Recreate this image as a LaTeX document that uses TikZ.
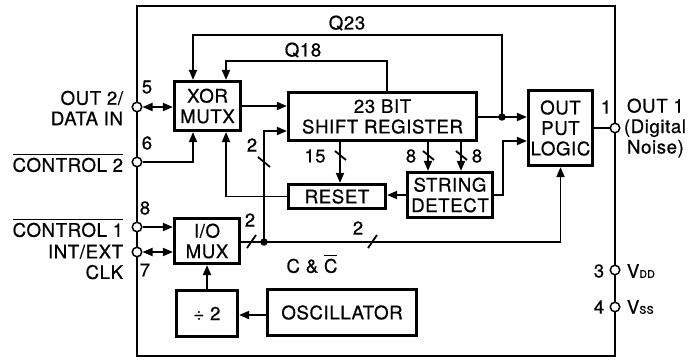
\documentclass[tikz,border=0pt]{standalone}
\usepackage{fontspec}
\setmainfont{TeX Gyre Heros}[FakeBold=0.6,LetterSpace=3]
\usetikzlibrary{arrows.meta,calc}
\newcommand\bxf{\fontsize{18.7}{20.5}\selectfont}
\newcommand\smf{\fontsize{18.5}{20}\selectfont}
\newcommand\subf{\fontsize{10.5}{11}\selectfont}
\newcommand\ovl[1]{\vbox{\hrule height 1.5pt\kern 2.4pt\hbox{#1}}}
\begin{document}
\begin{tikzpicture}[x=1pt,y=-1pt,line width=1.8pt,
  >={Triangle[length=10pt,width=8pt]},
  box/.style={draw,line width=2.7pt,inner sep=0pt,align=center,font=\bxf},
  pinc/.style={circle,draw,fill=white,line width=1.5pt,minimum size=9.5pt,inner sep=0pt},
  jdot/.style={circle,fill,inner sep=0pt,minimum size=7.5pt},
  lbl/.style={font=\bxf,inner sep=0pt},
  num/.style={font=\smf,inner sep=0pt}]
\useasboundingbox (0,0) rectangle (689,361);
% chip outline
\draw[line width=2pt] (137,6) rectangle (615,356);
% boxes
\node[box,minimum width=66.5pt,minimum height=49.5pt] (xor) at (207.5,106) {XOR\\MUTX};
\node[box,minimum width=188.5pt,minimum height=48.5pt] (sr) at (382.5,116.5) {23 BIT\\SHIFT REGISTER};
\node[box,minimum width=64.5pt,minimum height=75.5pt] (out) at (560.5,128) {OUT\\PUT\\LOGIC};
\node[box,minimum width=97.5pt,minimum height=24.5pt] (reset) at (337,196.5) {RESET};
\node[box,minimum width=85.5pt,minimum height=45.5pt] (str) at (450,195) {STRING\\DETECT};
\node[box,minimum width=65.5pt,minimum height=45.5pt] (mux) at (207,241) {I/O\\MUX};
\node[box,minimum width=61.5pt,minimum height=46.5pt] (div) at (207,313.5) {÷ 2};
\node[box,minimum width=149.5pt,minimum height=46.5pt] (osc) at (342,312.5) {OSCILLATOR};
% pins
\node[pinc] (p5) at (137,107) {};
\node[pinc] (p6) at (137,162) {};
\node[pinc] (p8) at (137,227) {};
\node[pinc] (p7) at (137,252) {};
\node[pinc] (p1) at (615,128) {};
\node[pinc] (p3) at (615,270) {};
\node[pinc] (p4) at (615,307) {};
% junctions and bus coordinates
\node[jdot] (j1) at (502,117) {};
\node[jdot] (j2) at (264,242) {};
\coordinate (b15) at (340,0);
\coordinate (b8a) at (428,0);
\coordinate (b8b) at (461,0);
\coordinate (q23) at (502,35);
\coordinate (q18) at (387,61);
\coordinate (sd) at (503,195);
% connectors
\draw[<->] (p5) -- (xor.west |- p5);
\draw[->] (p6) -| ([xshift=-14.5pt]xor.south);
\draw[->] (reset.west) -| ([xshift=18.5pt]xor.south);
\draw[->] (xor.east) -- (sr.west |- xor.east);
\draw (sr.east |- j1) -- (j1.center);
\draw[->] (j1.center) -- (out.west |- j1);
\draw[->] (j1.center) -- (q23) -| ([xshift=-14.5pt]xor.north);
\draw[->] (sr.north -| q18) -- (q18) -| ([xshift=18.5pt]xor.north);
\draw (mux.east |- j2) -- (j2.center);
\draw[->] (j2.center) |- ($(sr.west)+(0,14.5)$);
\draw[->] (j2.center) -| (out.south);
\draw[->] (str.east |- sd) -- (sd) |- ($(out.west)+(0,13)$);
\draw[->] (str.west) -- (reset.east |- str.west);
\draw[->] (sr.south -| b15) -- (reset.north -| b15);
\draw[->] (sr.south -| b8a) -- (str.north -| b8a);
\draw[->] (sr.south -| b8b) -- (str.north -| b8b);
\draw[->] (osc.west |- 0,315) -- (div.east |- 0,315);
\draw[->] (div.north) -- (mux.south);
\draw[->] (p8) -- (mux.west |- p8);
\draw[<->] (p7) -- (mux.west |- p7);
\draw (out.east |- p1) -- (p1);
% bus slashes
\draw (335,151) -- (346,160);
\draw (423,151) -- (434,160);
\draw (456,151) -- (467,160);
\draw (258,157) -- (270,167);
\draw (247,248) -- (256,235);
\draw (368,248) -- (377,235);
% internal labels
\node[lbl] at (347,23) {Q23};
\node[lbl] at (303,50) {Q18};
\node[num] at (252,145) {2};
\node[num] at (250,220) {2};
\node[num] at (358,228) {2};
\node[num] at (315,156) {15};
\node[num] at (411,156) {8};
\node[num] at (477,156) {8};
\node[lbl] at (312,264) {C \& \ovl{C}};
% pin numbers
\node[num] at (147,87) {5};
\node[num] at (147,143) {6};
\node[num] at (145,208) {8};
\node[num] at (145,270) {7};
\node[num] at (606,107) {1};
\node[num] at (599,271) {3};
\node[num] at (599,307) {4};
% external labels
\node[lbl,align=right,anchor=east] at (124,108) {OUT 2/\\DATA IN};
\node[lbl,anchor=east] at (124,163) {\ovl{CONTROL 2}};
\node[lbl,anchor=east] at (124,228) {\ovl{CONTROL 1}};
\node[lbl,align=right,anchor=east] at (124,262) {INT/EXT\\CLK};
\node[lbl,align=left,anchor=west] at (623,128) {\,OUT 1\\(Digital\\\,Noise)};
\node[lbl,anchor=west] at (626,271) {V{\subf DD}};
\node[lbl,anchor=west] at (626,307) {V{\subf SS}};
\end{tikzpicture}
\end{document}
